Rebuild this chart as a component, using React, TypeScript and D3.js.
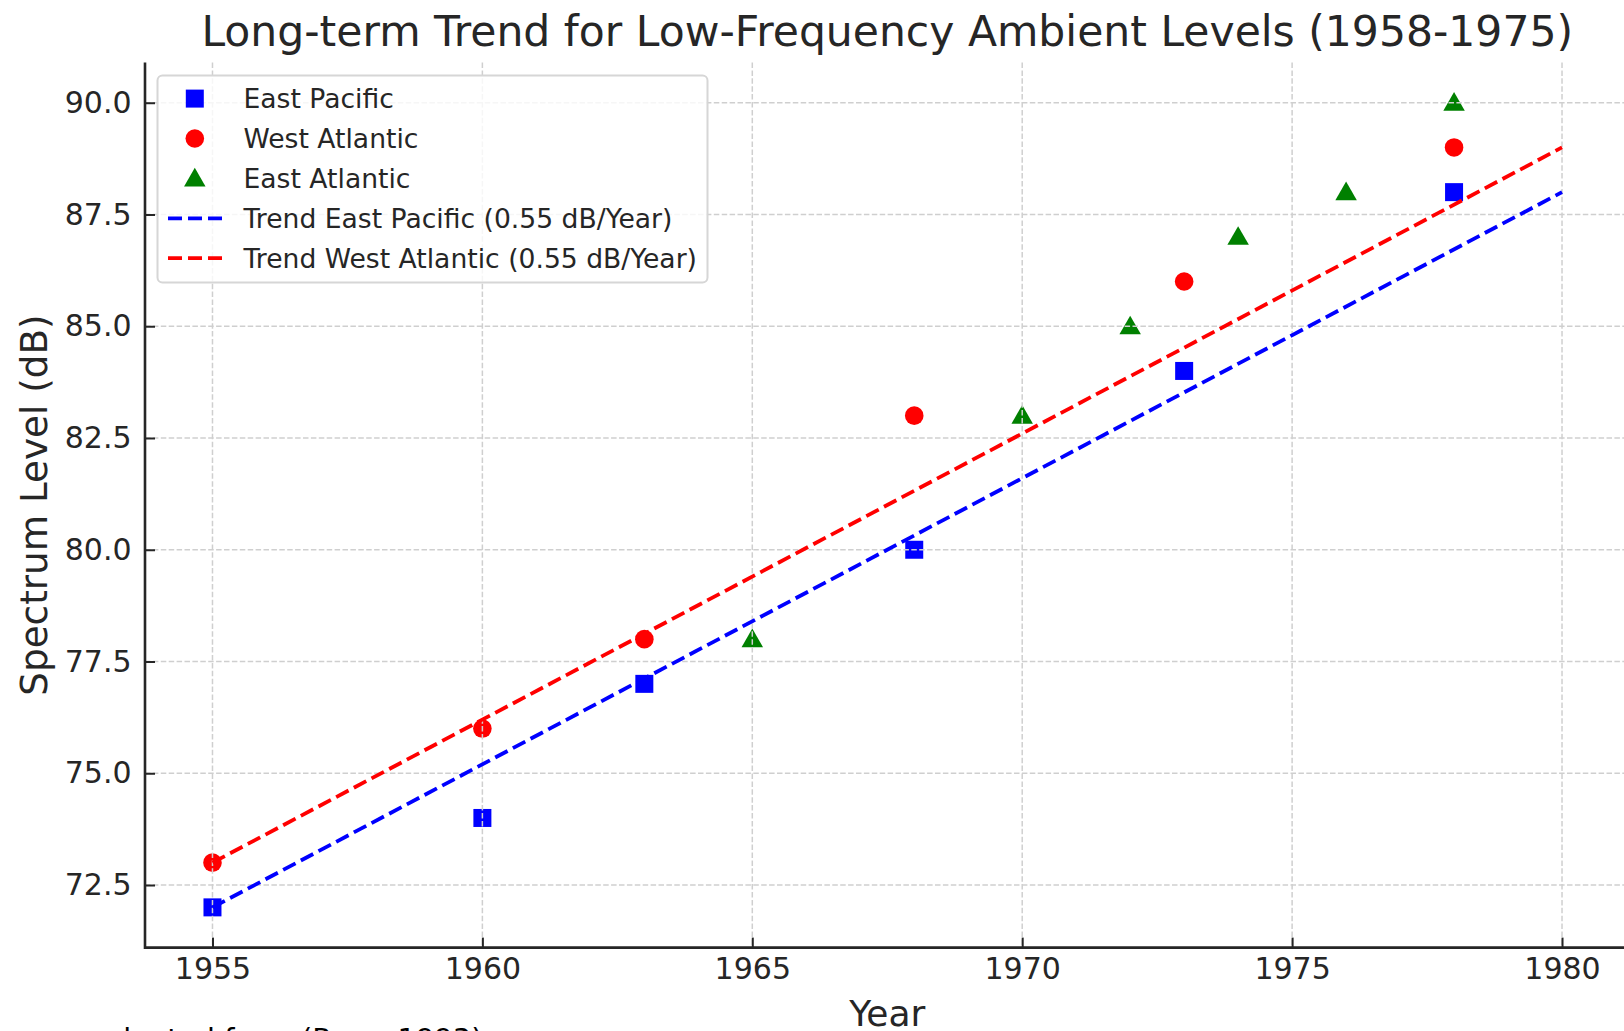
import React, { useEffect, useRef } from 'react';
import * as d3 from 'd3';

// values
const eastPacificYears = [1955, 1960, 1963, 1968, 1973, 1978];
const eastPacificLevels = [72, 74, 77, 80, 84, 88];
const westAtlanticYears = [1955, 1960, 1963, 1968, 1973, 1978];
const westAtlanticLevels = [73, 76, 78, 83, 86, 89];
const eastAtlanticYears = [1965, 1970, 1972, 1974, 1976, 1978];
const eastAtlanticLevels = [78, 83, 85, 87, 88, 90];

const trendYears = [1955, 1980];
const trendEastPacific = [72, 88];
const trendWestAtlantic = [73, 89];

const xTicks = [1955, 1960, 1965, 1970, 1975, 1980];
const yTicks = [72.5, 75.0, 77.5, 80.0, 82.5, 85.0, 87.5, 90.0];

const legendLabels = [
    "East Pacific",
    "West Atlantic",
    "East Atlantic",
    "Trend East Pacific (0.55 dB/Year)",
    "Trend West Atlantic (0.55 dB/Year)"
];

const App = ({ width = 1624, height = 1031 }) => {
    const wrapper = useRef(null);

    useEffect(() => {
        d3.select(wrapper.current).selectAll("svg").remove();

        const font = "DejaVu Sans, sans-serif";
        const ink = "#262626";
        // the right side of the axes runs past the picture's edge
        const margin = { top: 62.5, bottom: height - 947.6, left: 145, right: -5.5 };

        // matplotlib style 5% padding around the data
        const x = d3.scaleLinear()
            .domain([1953.75, 1981.25])
            .range([margin.left, width - margin.right]);

        const y = d3.scaleLinear()
            .domain([71.1, 90.9])
            .range([height - margin.bottom, margin.top]);

        const svg = d3.select(wrapper.current)
            .append("svg")
            .attr("width", width)
            .attr("height", height)
            .style("display", "block")
            .style("font-family", font);

        svg.append("rect").attr("width", width).attr("height", height).attr("fill", "#fff");

        const toPoints = (xs, ys) => xs.map((yr, i) => ({ year: yr, value: ys[i] }));
        const ep = toPoints(eastPacificYears, eastPacificLevels);
        const wa = toPoints(westAtlanticYears, westAtlanticLevels);
        const ea = toPoints(eastAtlanticYears, eastAtlanticLevels);

        const line = d3.line()
            .x(d => x(d.year))
            .y(d => y(d.value));

        const sym = (type, size) => d3.symbol().type(type).size(size)();
        const squareD = sym(d3.symbolSquare, 18 * 18);
        const triangleD = sym(d3.symbolTriangle, 200);

        // markers
        svg.append("g").selectAll("path")
            .data(ep).join("path")
            .attr("transform", d => `translate(${x(d.year)},${y(d.value)})`)
            .attr("d", squareD)
            .attr("fill", "#0000ff");

        svg.append("g").selectAll("circle")
            .data(wa).join("circle")
            .attr("cx", d => x(d.year))
            .attr("cy", d => y(d.value))
            .attr("r", 9.3)
            .attr("fill", "#ff0000");

        svg.append("g").selectAll("path")
            .data(ea).join("path")
            .attr("transform", d => `translate(${x(d.year)},${y(d.value) + 1.8})`)
            .attr("d", triangleD)
            .attr("fill", "#008000");

        // grid
        const grid = svg.append("g")
            .attr("stroke", "#cfcfcf")
            .attr("stroke-width", 1.5)
            .attr("stroke-dasharray", "5.5 2.4");

        grid.selectAll(".vx")
            .data(xTicks).join("line")
            .attr("x1", d => x(d)).attr("x2", d => x(d))
            .attr("y1", margin.top).attr("y2", height - margin.bottom);

        grid.selectAll(".hy")
            .data(yTicks).join("line")
            .attr("x1", margin.left).attr("x2", width)
            .attr("y1", d => y(d)).attr("y2", d => y(d));

        // trend lines
        svg.append("path")
            .datum(toPoints(trendYears, trendEastPacific))
            .attr("d", line)
            .attr("fill", "none")
            .attr("stroke", "#0000ff")
            .attr("stroke-width", 3.8)
            .attr("stroke-dasharray", "14 6");

        svg.append("path")
            .datum(toPoints(trendYears, trendWestAtlantic))
            .attr("d", line)
            .attr("fill", "none")
            .attr("stroke", "#ff0000")
            .attr("stroke-width", 3.8)
            .attr("stroke-dasharray", "14 6");

        // axes, ticks pointing inward
        const xAxis = d3.axisBottom(x).tickValues(xTicks).tickFormat(d3.format("d"))
            .tickSizeInner(-10).tickSizeOuter(0).tickPadding(10);
        const gx = svg.append("g")
            .attr("transform", `translate(0,${height - margin.bottom})`)
            .call(xAxis);
        gx.select(".domain").remove();
        gx.selectAll("line").attr("stroke", ink).attr("stroke-width", 2);
        gx.selectAll("text")
            .attr("fill", ink)
            .style("font-family", font)
            .style("font-size", "30px")
            .attr("dy", "0.71em");

        const yAxis = d3.axisLeft(y).tickValues(yTicks).tickFormat(d3.format(".1f"))
            .tickSizeInner(-10).tickSizeOuter(0).tickPadding(13.5);
        const gy = svg.append("g")
            .attr("transform", `translate(${margin.left},0)`)
            .call(yAxis);
        gy.select(".domain").remove();
        gy.selectAll("line").attr("stroke", ink).attr("stroke-width", 2);
        gy.selectAll("text")
            .attr("fill", ink)
            .style("font-family", font)
            .style("font-size", "30px");

        // spines (left + bottom only)
        svg.append("path")
            .attr("d", `M${margin.left},${margin.top}V${height - margin.bottom}H${width}`)
            .attr("fill", "none")
            .attr("stroke", ink)
            .attr("stroke-width", 2.6);

        // legend
        const lg = svg.append("g");
        lg.append("rect")
            .attr("x", 157.5).attr("y", 75.6)
            .attr("width", 550).attr("height", 207)
            .attr("rx", 5)
            .attr("fill", "#fff").attr("fill-opacity", 0.8)
            .attr("stroke", "#d6d6d6").attr("stroke-width", 2);

        const rowY = i => 98.6 + i * 39.9;
        const mx = 194.8;

        lg.append("path")
            .attr("transform", `translate(${mx},${rowY(0)})`)
            .attr("d", squareD).attr("fill", "#0000ff");
        lg.append("circle")
            .attr("cx", mx).attr("cy", rowY(1)).attr("r", 9.3).attr("fill", "#ff0000");
        lg.append("path")
            .attr("transform", `translate(${mx},${rowY(2) + 1.8})`)
            .attr("d", triangleD).attr("fill", "#008000");
        [["#0000ff", 3], ["#ff0000", 4]].forEach(([c, i]) => {
            lg.append("line")
                .attr("x1", 168).attr("x2", 222)
                .attr("y1", rowY(i)).attr("y2", rowY(i))
                .attr("stroke", c).attr("stroke-width", 3.8)
                .attr("stroke-dasharray", "14 6");
        });

        lg.selectAll("text")
            .data(legendLabels).join("text")
            .attr("x", 243.5)
            .attr("y", (d, i) => rowY(i))
            .attr("dy", "0.36em")
            .attr("fill", ink)
            .style("font-size", "26.6px")
            .text(d => d);

        // titles
        const cx = (margin.left + width - margin.right) / 2;
        svg.append("text")
            .attr("x", cx)
            .attr("y", 46)
            .attr("text-anchor", "middle")
            .attr("fill", ink)
            .style("font-size", "42.5px")
            .text("Long-term Trend for Low-Frequency Ambient Levels (1958-1975)");

        svg.append("text")
            .attr("x", cx)
            .attr("y", 1025.5)
            .attr("text-anchor", "middle")
            .attr("fill", ink)
            .style("font-size", "36px")
            .text("Year");

        svg.append("text")
            .attr("transform", `translate(33.5,${(margin.top + height - margin.bottom) / 2}) rotate(-90)`)
            .attr("text-anchor", "middle")
            .attr("dy", "0.36em")
            .attr("fill", ink)
            .style("font-size", "37.3px")
            .text("Spectrum Level (dB)");

        // source note, mostly cut off by the bottom edge as in the original
        svg.append("text")
            .attr("x", 95)
            .attr("y", 1049)
            .attr("fill", "#000")
            .style("font-size", "29px")
            .text("adapted from (Ross, 1993)");
    }, []);

    return (
        <div ref={wrapper} style={{ position: "absolute", left: 0, top: 0 }}>
        </div>
    );
};

export { App as default };
